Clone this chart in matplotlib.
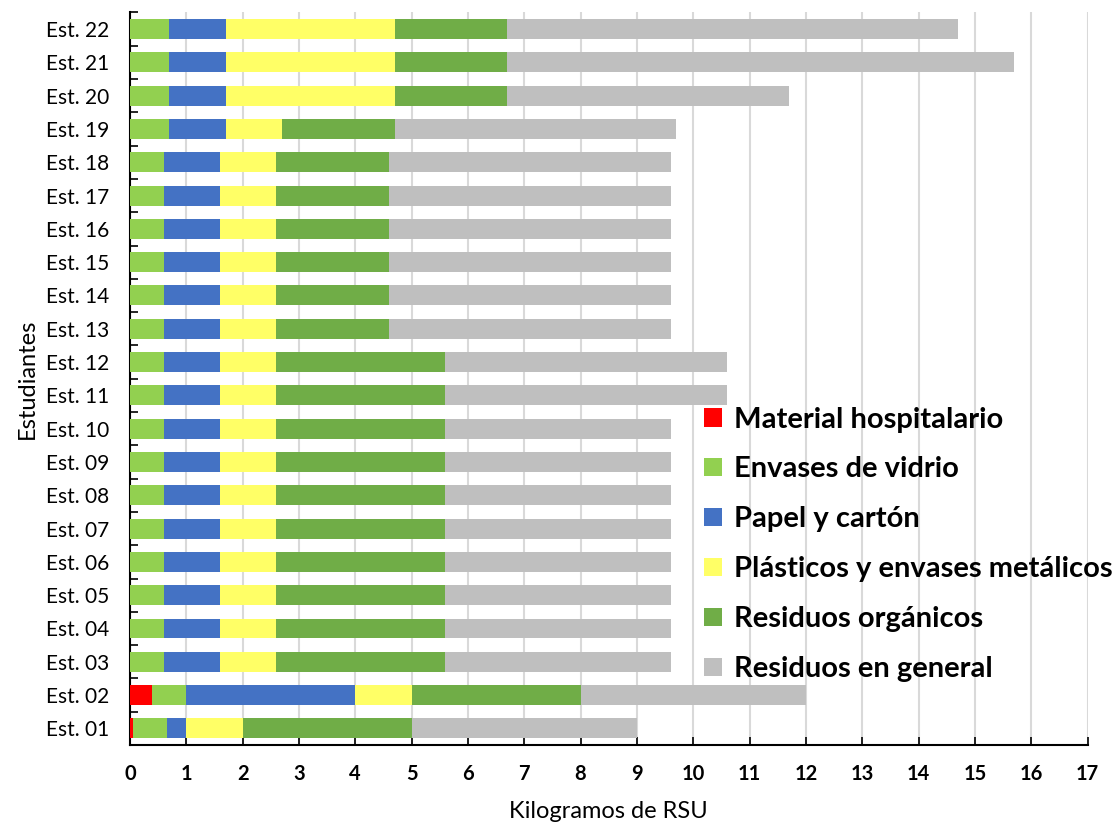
import numpy as np
import matplotlib.pyplot as plt

plt.rcParams['font.family'] = ['Lato', 'DejaVu Sans']

estudiantes = ["Est. %02d" % i for i in range(1, 23)]

hospitalario = [0.05, 0.4] + [0] * 20
vidrio = [0.6, 0.6] + [0.6] * 16 + [0.7] * 4
papel = [0.35, 3.0] + [1.0] * 20
plasticos = [1.0, 1.0] + [1.0] * 17 + [3.0, 3.0, 3.0]
organicos = [3.0, 3.0] + [3.0] * 10 + [2.0] * 10
general = [4.0, 4.0] + [4.0] * 8 + [5.0, 5.0] + [5.0] * 7 + [5.0, 9.0, 8.0]

series = [
    ("Material hospitalario", hospitalario, "#FF0000"),
    ("Envases de vidrio", vidrio, "#92D050"),
    ("Papel y cartón", papel, "#4472C4"),
    ("Plásticos y envases metálicos", plasticos, "#FFFF66"),
    ("Residuos orgánicos", organicos, "#70AD47"),
    ("Residuos en general", general, "#BFBFBF"),
]

fig = plt.figure(figsize=(11.2, 8.26), dpi=100)
ax = fig.add_axes([0.116, 0.098, 0.855, 0.887])

y = np.arange(len(estudiantes))
left = np.zeros(len(estudiantes))
for name, vals, color in series:
    vals = np.array(vals, dtype=float)
    ax.barh(y, vals, left=left, height=0.6, color=color, label=name, zorder=3)
    left += vals

ax.set_xlim(0, 17)
ax.set_ylim(-0.5, len(estudiantes) - 0.5)
ax.set_xticks(range(0, 18))
ax.set_yticks(y)
ax.set_yticklabels(estudiantes, fontsize=15)
ax.set_yticks(np.arange(-0.5, len(estudiantes), 1), minor=True)
ax.tick_params(axis='y', which='major', length=0, pad=15)
ax.tick_params(axis='y', which='minor', direction='in', length=6, width=1.2)
ax.tick_params(axis='x', direction='in', length=6, width=1.2, pad=14)
for lab in ax.get_xticklabels():
    lab.set_fontsize(14.5)
    lab.set_fontweight('bold')

ax.grid(axis='x', color='#D9D9D9', linewidth=1.5, zorder=0)
for s in ['top', 'right']:
    ax.spines[s].set_visible(False)
ax.spines['left'].set_linewidth(1.5)
ax.spines['bottom'].set_linewidth(1.5)

ax.set_xlabel("Kilogramos de RSU", fontsize=17, labelpad=12)
ax.set_ylabel("Estudiantes", fontsize=17, labelpad=6)

leg = ax.legend(loc='upper left', bbox_to_anchor=(0.600, 0.462), frameon=False,
                prop={'weight': 'bold', 'size': 21}, handlelength=0.6,
                handleheight=0.6, handletextpad=0.4, labelspacing=0.82,
                borderaxespad=0, borderpad=0)
leg.set_zorder(5)

fig.savefig("out.png", dpi=100)
